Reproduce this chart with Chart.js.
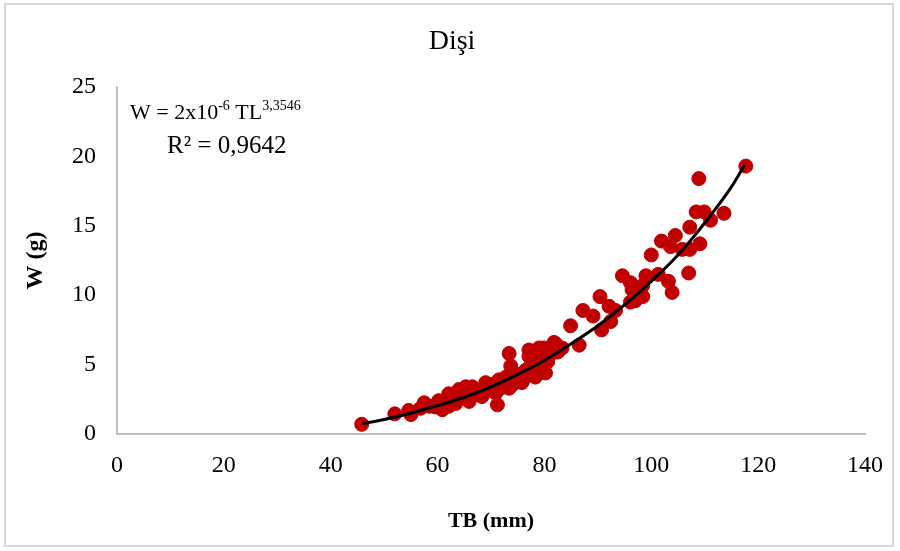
<!DOCTYPE html>
<html>
<head>
<meta charset="utf-8">
<script src="https://cdn.jsdelivr.net/npm/chart.js@4/dist/chart.umd.min.js"></script>
<style>
  body { margin: 0; background: #fff; }
  #wrap { width: 900px; height: 551px; }
</style>
</head>
<body>
<div id="wrap"><canvas id="chart1" width="900" height="551"></canvas></div>
<script>
// TB (mm) and W (g) of each female
var lengths = [45.8, 52, 54.6, 55, 56.8, 57.5, 58.5, 59.6, 60.9, 61.5, 62.1, 62.1, 63.0, 63.4, 64, 64.5,
    65.3, 65.9, 66.5, 67, 67.5, 68.3, 69, 69.5, 70.2, 70.9, 71.2, 71.5, 72, 72.5, 73.4, 73.4, 73.7, 73.9,
    74.5, 75, 75.8, 76.5, 76.8, 77.1, 77.1, 77.5, 78.3, 78.3, 79, 79, 79.5, 80.2, 80, 79.9, 81, 81.8, 82.1,
    83.3, 84.9, 86.5, 87.2, 89.1, 90.4, 90.7, 92.1, 92.4, 93.3, 94.6, 96.1, 96.4, 96.1, 97, 98.4, 98.4, 99,
    100, 101.3, 101.9, 103.2, 103.6, 103.9, 104.5, 105.8, 107.2, 107, 107.2, 108.4, 108.9, 109.1, 109.9,
    111.1, 113.6, 117.7,
    60.2, 61, 63.8, 65, 66, 67.8, 68.8, 70.5, 71.8, 72.8, 74.2, 75.5, 76.2, 77.8, 78.8, 79.6, 80.6, 81.5, 82.5];
var weights = [0.7, 1.45, 1.7, 1.4, 1.85, 2.25, 2.0, 1.95, 1.75, 2.3, 2.9, 2.0, 2.4, 2.2, 3.2, 2.6,
    3.4, 2.35, 3.4, 2.8, 3.1, 2.7, 3.7, 3.3, 3.1, 2.95, 2.1, 3.9, 3.5, 3.7, 3.3, 5.8, 4.9, 4.25,
    4.0, 3.9, 3.7, 4.6, 4.3, 5.6, 6.05, 5.0, 4.85, 4.1, 5.3, 6.2, 4.5, 4.4, 5.8, 6.2, 5.7, 6.6, 6.5,
    6.2, 7.8, 6.4, 8.9, 8.5, 9.9, 7.5, 9.2, 8.1, 8.9, 11.4, 10.9, 10.4, 9.5, 9.6, 9.9, 10.7, 11.4,
    12.9, 11.5, 13.9, 11.0, 13.5, 10.2, 14.3, 13.3, 13.3, 11.6, 14.9, 16.0, 18.4, 13.7, 16.0,
    15.4, 15.9, 19.3,
    2.4, 2.1, 2.9, 2.8, 3.0, 3.0, 3.2, 3.6, 3.3, 4.1, 3.6, 4.3, 4.0, 4.4, 5.6, 5.0, 5.2, 6.1, 5.9];

// power trend line
var trendX = [46, 50, 55, 60, 65, 70, 75, 80, 85, 90, 95, 100, 105, 110, 115, 117.5];
var trendY = [0.75, 1.05, 1.5, 2.05, 2.65, 3.4, 4.3, 5.3, 6.5, 7.8, 9.3, 11.0, 12.9, 15.2, 17.8, 19.4];

var xTicks = [0, 20, 40, 60, 80, 100, 120, 140];
var yTicks = [0, 5, 10, 15, 20, 25];

var points = lengths.map(function (x, i) { return { x: x, y: weights[i] }; });
var trend = trendX.map(function (x, i) { return { x: x, y: trendY[i] }; });

var serif = '"Liberation Serif", "Times New Roman", serif';

// white background, outer frame, chart title and the equation text
var extras = {
    id: 'extras',
    beforeDraw: function (chart) {
        var c = chart.ctx;
        c.save();
        c.fillStyle = '#fff';
        c.fillRect(0, 0, chart.width, chart.height);
        c.strokeStyle = '#d9d9d9';
        c.lineWidth = 2;
        c.strokeRect(5, 4, 888, 542);
        c.restore();
    },
    afterDraw: function (chart) {
        var c = chart.ctx;
        c.save();
        c.fillStyle = '#000';
        c.textAlign = 'center';
        c.textBaseline = 'middle';
        c.font = '28px ' + serif;
        c.fillText('Dişi', 452, 42);

        c.textAlign = 'left';
        c.textBaseline = 'alphabetic';
        var big = '22px ' + serif, small = '14px ' + serif;
        var x = 130, y = 119;
        var parts = [['W = 2x10', big, 0], ['-6', small, -9], [' TL', big, 0], ['3,3546', small, -9]];
        parts.forEach(function (p) {
            c.font = p[1];
            c.fillText(p[0], x, y + p[2]);
            x += c.measureText(p[0]).width;
        });
        c.font = '25px ' + serif;
        c.fillText('R² = 0,9642', 167, 153);
        c.restore();
    }
};

var ctx = document.getElementById('chart1').getContext('2d');
var chart = new Chart(ctx, {
    type: 'scatter',
    data: {
        datasets: [{
            type: 'line',
            label: 'Trend',
            data: trend,
            borderColor: '#000',
            borderWidth: 3,
            pointRadius: 0,
            fill: false,
            cubicInterpolationMode: 'monotone',
            order: 0
        }, {
            label: 'Dişi',
            data: points,
            backgroundColor: '#c00000',
            borderColor: '#c00000',
            pointRadius: 7,
            pointHoverRadius: 7,
            order: 1
        }]
    },
    options: {
        responsive: false,
        animation: false,
        layout: { padding: { left: 10, right: 34, top: 87, bottom: 10 } },
        plugins: {
            legend: { display: false },
            tooltip: { enabled: false },
            title: { display: false }
        },
        scales: {
            x: {
                type: 'linear',
                min: 0,
                max: 140,
                afterBuildTicks: function (s) { s.ticks = xTicks.map(function (v) { return { value: v }; }); },
                afterFit: function (s) { s.height = 107; },
                grid: { display: false, drawTicks: false },
                border: { display: true, color: '#bfbfbf', width: 2 },
                ticks: { color: '#000', padding: 17, font: { family: serif, size: 24 } },
                title: {
                    display: true,
                    text: 'TB (mm)',
                    color: '#000',
                    font: { family: serif, size: 22, weight: 'bold', lineHeight: 1.2 },
                    padding: { top: 0, bottom: 6 }
                }
            },
            y: {
                type: 'linear',
                min: 0,
                max: 25,
                afterBuildTicks: function (s) { s.ticks = yTicks.map(function (v) { return { value: v }; }); },
                afterFit: function (s) { s.width = 107; },
                grid: { display: false, drawTicks: false },
                border: { display: true, color: '#bfbfbf', width: 2 },
                ticks: { color: '#000', padding: 21, font: { family: serif, size: 24 } },
                title: {
                    display: true,
                    text: 'W (g)',
                    color: '#000',
                    font: { family: serif, size: 24, weight: 'bold', lineHeight: 1.2 },
                    padding: { top: 11, bottom: 0 }
                }
            }
        }
    },
    plugins: [extras]
});
</script>
</body>
</html>
